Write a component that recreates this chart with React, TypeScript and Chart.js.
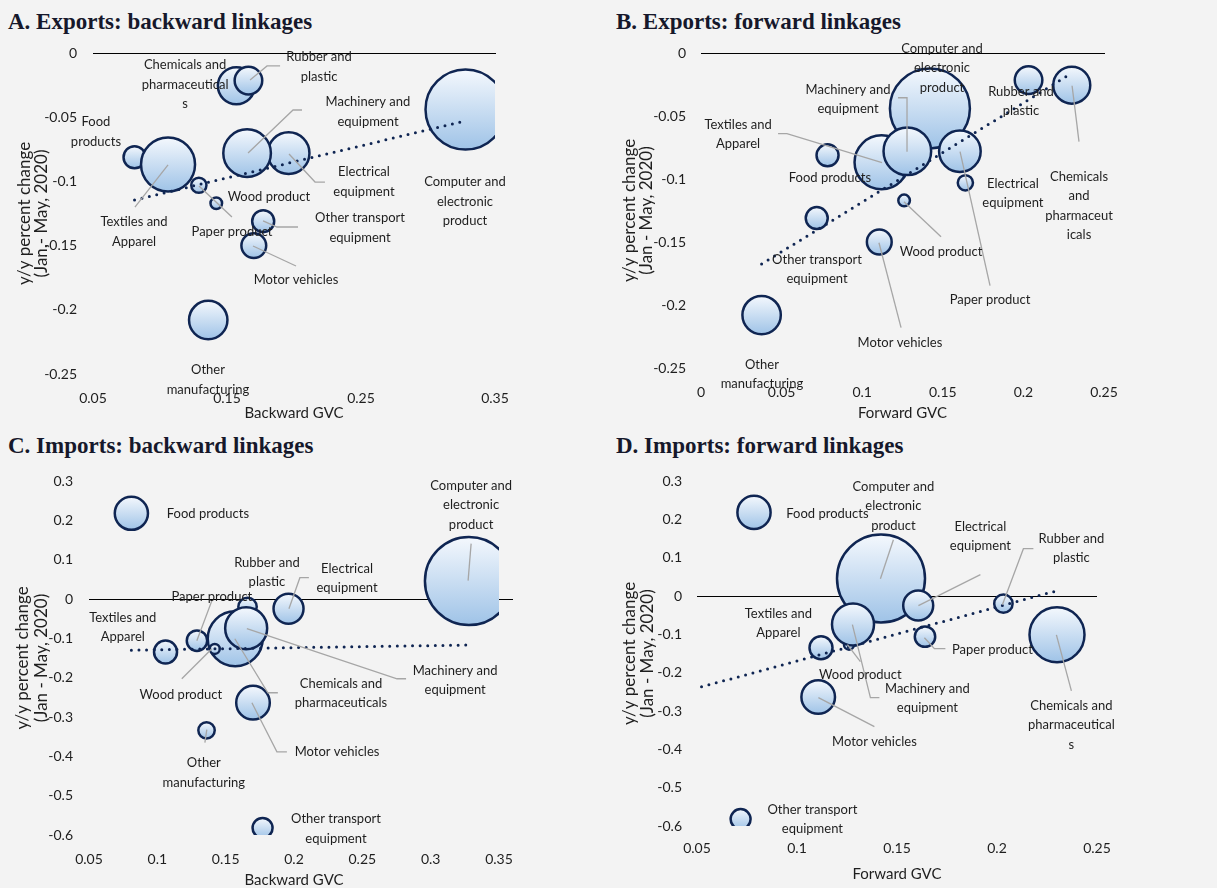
import React, { useEffect, useRef } from "react";
import Chart from "chart.js/auto";

// ---------- data (order also sets drawing order, first = bottom) ----------
const categories = [
  "Computer and electronic product",
  "Chemicals and pharmaceuticals",
  "Food products",
  "Textiles and Apparel",
  "Wood product",
  "Paper product",
  "Other manufacturing",
  "Other transport equipment",
  "Motor vehicles",
  "Electrical equipment",
  "Rubber and plastic",
  "Machinery and equipment",
];
const backwardGVC = [0.328, 0.157, 0.081, 0.106, 0.142, 0.129, 0.136, 0.177, 0.17, 0.196, 0.166, 0.165];
const forwardGVC = [0.142, 0.23, 0.0785, 0.112, 0.126, 0.164, 0.0376, 0.0718, 0.1106, 0.1606, 0.2032, 0.128];
const exportChange = [-0.044, -0.0255, -0.0812, -0.0868, -0.117, -0.103, -0.208, -0.131, -0.15, -0.078, -0.0215, -0.078];
const importChange = [0.0455, -0.101, 0.218, -0.135, -0.127, -0.106, -0.334, -0.582, -0.2635, -0.025, -0.02, -0.0745];
const exportSize = [40, 18.5, 11, 27, 5.8, 7.6, 19.2, 11, 12.4, 20.8, 13.8, 23.8];
const importSize = [44, 27.5, 16.6, 11.5, 5, 10.2, 8.2, 10, 16.8, 15, 9.2, 21];

// trend lines (endpoints)
const trendAx = [0.081, 0.328];
const trendAy = [-0.1145, -0.0528];
const trendBx = [0.0376, 0.23];
const trendBy = [-0.1675, -0.016];
const trendCx = [0.081, 0.328];
const trendCy = [-0.13, -0.117];
const trendDx = [0.0376, 0.23];
const trendDy = [-0.2576, 0.0137];

// ticks
const xTicksBackward = [0.05, 0.15, 0.25, 0.35];
const xTickLabelsBackwardA = ["0.05", "0.15", "0.25", "0.35"];
const xTicksForwardB = [0, 0.05, 0.1, 0.15, 0.2, 0.25];
const xTickLabelsForwardB = ["0", "0.05", "0.1", "0.15", "0.2", "0.25"];
const xTicksBackwardC = [0.05, 0.1, 0.15, 0.2, 0.25, 0.3, 0.35];
const xTickLabelsBackwardC = ["0.05", "0.1", "0.15", "0.2", "0.25", "0.3", "0.35"];
const xTicksForwardD = [0.05, 0.1, 0.15, 0.2, 0.25];
const xTickLabelsForwardD = ["0.05", "0.1", "0.15", "0.2", "0.25"];
const yTicksExports = [0, -0.05, -0.1, -0.15, -0.2, -0.25];
const yTickLabelsExports = ["0", "-0.05", "-0.1", "-0.15", "-0.2", "-0.25"];
const yTicksImports = [0.3, 0.2, 0.1, 0, -0.1, -0.2, -0.3, -0.4, -0.5, -0.6];
const yTickLabelsImports = ["0.3", "0.2", "0.1", "0", "-0.1", "-0.2", "-0.3", "-0.4", "-0.5", "-0.6"];

type Ann = { t: string[]; x: number; y: number; l?: number[][] };

const annA: Ann[] = [
  { t: ["Chemicals and", "pharmaceutical", "s"], x: 0.1187, y: -0.0093 },
  { t: ["Rubber and", "plastic"], x: 0.2187, y: -0.0031, l: [[0.1672, -0.021], [0.1799, -0.0101], [0.1896, -0.0101]] },
  { t: ["Machinery and", "equipment"], x: 0.2552, y: -0.0382, l: [[0.1657, -0.0779], [0.1993, -0.0444], [0.206, -0.0444]] },
  { t: ["Food", "products"], x: 0.0522, y: -0.0537 },
  { t: ["Textiles and", "Apparel"], x: 0.0806, y: -0.1316, l: [[0.106, -0.0872], [0.0813, -0.12]] },
  { t: ["Wood product"], x: 0.1813, y: -0.1121 },
  { t: ["Paper product"], x: 0.1537, y: -0.1394, l: [[0.1291, -0.1036], [0.1537, -0.1277]] },
  { t: ["Electrical", "equipment"], x: 0.2522, y: -0.0927, l: [[0.1963, -0.0787], [0.2157, -0.1005], [0.2231, -0.1005]] },
  { t: ["Other transport", "equipment"], x: 0.2493, y: -0.1285, l: [[0.1769, -0.1308], [0.1873, -0.1355], [0.203, -0.1355]] },
  { t: ["Motor vehicles"], x: 0.2015, y: -0.1768, l: [[0.1694, -0.1503], [0.2015, -0.1659]] },
  { t: ["Other", "manufacturing"], x: 0.1358, y: -0.2469 },
  { t: ["Computer and", "electronic", "product"], x: 0.3276, y: -0.1005 },
];
const annB: Ann[] = [
  { t: ["Computer and", "electronic", "product"], x: 0.1495, y: 0.0034 },
  { t: ["Machinery and", "equipment"], x: 0.0912, y: -0.0291, l: [[0.1278, -0.0783], [0.1278, -0.0355], [0.1222, -0.0355]] },
  { t: ["Textiles and", "Apparel"], x: 0.023, y: -0.0569, l: [[0.1123, -0.0871], [0.0533, -0.064], [0.0478, -0.064]] },
  { t: ["Food products"], x: 0.08, y: -0.099 },
  { t: ["Rubber and", "plastic"], x: 0.1985, y: -0.0307 },
  { t: ["Electrical", "equipment"], x: 0.1935, y: -0.1037 },
  { t: ["Chemicals", "and", "pharmaceut", "icals"], x: 0.2345, y: -0.0982, l: [[0.2302, -0.026], [0.2345, -0.0704]] },
  { t: ["Wood product"], x: 0.1489, y: -0.1577, l: [[0.1259, -0.118], [0.1489, -0.1458]] },
  { t: ["Other transport", "equipment"], x: 0.072, y: -0.164 },
  { t: ["Paper product"], x: 0.1793, y: -0.1958, l: [[0.1607, -0.0783], [0.1793, -0.1847]] },
  { t: ["Motor vehicles"], x: 0.1234, y: -0.2299, l: [[0.1104, -0.1506], [0.1241, -0.218]] },
  { t: ["Other", "manufacturing"], x: 0.0378, y: -0.2474 },
];
const annC: Ann[] = [
  { t: ["Food products"], x: 0.137, y: 0.217 },
  { t: ["Computer and", "electronic", "product"], x: 0.3296, y: 0.2883, l: [[0.3296, 0.1407], [0.3274, 0.0466]] },
  { t: ["Rubber and", "plastic"], x: 0.1802, y: 0.0924 },
  { t: ["Electrical", "equipment"], x: 0.2388, y: 0.0771, l: [[0.1963, -0.0247], [0.2043, 0.0542], [0.2109, 0.0542]] },
  { t: ["Paper product"], x: 0.1399, y: 0.0059, l: [[0.1289, -0.1061], [0.1399, -0.0043]] },
  { t: ["Textiles and", "Apparel"], x: 0.0747, y: -0.0476 },
  { t: ["Wood product"], x: 0.1172, y: -0.2435, l: [[0.1179, -0.2028], [0.1399, -0.1265]] },
  { t: ["Chemicals and", "pharmaceuticals"], x: 0.2344, y: -0.2155, l: [[0.1567, -0.101], [0.1809, -0.2384], [0.1882, -0.2384]] },
  { t: ["Machinery and", "equipment"], x: 0.3179, y: -0.1824, l: [[0.1655, -0.0756], [0.2754, -0.2028], [0.282, -0.2028]] },
  { t: ["Motor vehicles"], x: 0.2315, y: -0.3885, l: [[0.1692, -0.2638], [0.1875, -0.3885], [0.1948, -0.3885]] },
  { t: ["Other", "manufacturing"], x: 0.134, y: -0.4165, l: [[0.1362, -0.332], [0.1348, -0.3651]] },
  { t: ["Other transport", "equipment"], x: 0.2307, y: -0.559 },
];
const annD: Ann[] = [
  { t: ["Food products"], x: 0.1152, y: 0.2147 },
  { t: ["Computer and", "electronic", "product"], x: 0.1482, y: 0.2852, l: [[0.1482, 0.1469], [0.1417, 0.0451]] },
  { t: ["Electrical", "equipment"], x: 0.1917, y: 0.1808, l: [[0.1607, -0.0253], [0.1917, 0.0556]] },
  { t: ["Rubber and", "plastic"], x: 0.2372, y: 0.1495, l: [[0.2027, -0.0227], [0.2132, 0.1234], [0.2182, 0.1234]] },
  { t: ["Textiles and", "Apparel"], x: 0.0907, y: -0.0462 },
  { t: ["Paper product"], x: 0.1977, y: -0.1401, l: [[0.1637, -0.1088], [0.1687, -0.1375], [0.1742, -0.1375]] },
  { t: ["Wood product"], x: 0.1317, y: -0.2053, l: [[0.1252, -0.127], [0.1317, -0.1714]] },
  { t: ["Machinery and", "equipment"], x: 0.1652, y: -0.2418, l: [[0.1277, -0.0749], [0.1367, -0.2653], [0.1412, -0.2653]] },
  { t: ["Chemicals and", "pharmaceutical", "s"], x: 0.2372, y: -0.2862, l: [[0.2297, -0.1013], [0.2372, -0.2474]] },
  { t: ["Motor vehicles"], x: 0.1387, y: -0.3801, l: [[0.1107, -0.2653], [0.1387, -0.3409]] },
  { t: ["Other transport", "equipment"], x: 0.1077, y: -0.5575 },
];

// ---------- styling / layout ----------
const FONT = "Lato, 'Open Sans', sans-serif";
const NAVY = "#0f2552";
const LABEL_LINE_H = 19.5;
const X_BOX = 50;

type Box = { left: number; top: number; width: number; height: number };
type Area = { left: number; top: number; right: number; bottom: number };
type PanelCfg = {
  title: string;
  titlePos: [number, number];
  canvas: Box;
  area: Area;
  xRange: [number, number];
  yRange: [number, number];
  xTicks: number[];
  xTickLabels: string[];
  yTicks: number[];
  yTickLabels: string[];
  xs: number[];
  ys: number[];
  sizes: number[];
  trendX: number[];
  trendY: number[];
  xTitle: string;
  yTitle: string[];
  xTitleOff: number;
  yTitleOff: [number, number];
  xTickPad: number;
  yTickPad: number;
  zeroExtend: number;
  ann: Ann[];
};

const panels: PanelCfg[] = [
  {
    title: "A. Exports: backward linkages",
    titlePos: [8, 10],
    canvas: { left: 0, top: 20, width: 600, height: 405 },
    area: { left: 93, top: 53, right: 495, bottom: 374 },
    xRange: [0.05, 0.35],
    yRange: [-0.25, 0],
    xTicks: xTicksBackward,
    xTickLabels: xTickLabelsBackwardA,
    yTicks: yTicksExports,
    yTickLabels: yTickLabelsExports,
    xs: backwardGVC,
    ys: exportChange,
    sizes: exportSize,
    trendX: trendAx,
    trendY: trendAy,
    xTitle: "Backward GVC",
    yTitle: ["y/y percent change", "(Jan,- May, 2020)"],
    xTitleOff: 39,
    yTitleOff: [68, 51],
    xTickPad: 16,
    yTickPad: 16,
    zeroExtend: 1,
    ann: annA,
  },
  {
    title: "B. Exports: forward linkages",
    titlePos: [616, 10],
    canvas: { left: 600, top: 20, width: 617, height: 405 },
    area: { left: 701, top: 53, right: 1104, bottom: 368 },
    xRange: [0, 0.25],
    yRange: [-0.25, 0],
    xTicks: xTicksForwardB,
    xTickLabels: xTickLabelsForwardB,
    yTicks: yTicksExports,
    yTickLabels: yTickLabelsExports,
    xs: forwardGVC,
    ys: exportChange,
    sizes: exportSize,
    trendX: trendBx,
    trendY: trendBy,
    xTitle: "Forward GVC",
    yTitle: ["y/y percent change", "(Jan - May, 2020)"],
    xTitleOff: 45,
    yTitleOff: [71, 54],
    xTickPad: 16.5,
    yTickPad: 15,
    zeroExtend: 1,
    ann: annB,
  },
  {
    title: "C. Imports: backward linkages",
    titlePos: [8, 434],
    canvas: { left: 0, top: 446, width: 600, height: 442 },
    area: { left: 89, top: 481, right: 499, bottom: 835 },
    xRange: [0.05, 0.35],
    yRange: [-0.6, 0.3],
    xTicks: xTicksBackwardC,
    xTickLabels: xTickLabelsBackwardC,
    yTicks: yTicksImports,
    yTickLabels: yTickLabelsImports,
    xs: backwardGVC,
    ys: importChange,
    sizes: importSize,
    trendX: trendCx,
    trendY: trendCy,
    xTitle: "Backward GVC",
    yTitle: ["y/y percent change", "(Jan - May, 2020)"],
    xTitleOff: 45,
    yTitleOff: [66, 47],
    xTickPad: 16.5,
    yTickPad: 16,
    zeroExtend: 14,
    ann: annC,
  },
  {
    title: "D. Imports: forward linkages",
    titlePos: [616, 434],
    canvas: { left: 600, top: 446, width: 617, height: 442 },
    area: { left: 697, top: 481, right: 1097, bottom: 826 },
    xRange: [0.05, 0.25],
    yRange: [-0.6, 0.3],
    xTicks: xTicksForwardD,
    xTickLabels: xTickLabelsForwardD,
    yTicks: yTicksImports,
    yTickLabels: yTickLabelsImports,
    xs: forwardGVC,
    ys: importChange,
    sizes: importSize,
    trendX: trendDx,
    trendY: trendDy,
    xTitle: "Forward GVC",
    yTitle: ["y/y percent change", "(Jan - May, 2020)"],
    xTitleOff: 48,
    yTitleOff: [67, 49],
    xTickPad: 14.5,
    yTickPad: 15,
    zeroExtend: 0,
    ann: annD,
  },
];

function makePlugins(cfg: PanelCfg) {
  const zeroLine = {
    id: "zeroLine",
    beforeDatasetsDraw(chart: any) {
      const { ctx, chartArea } = chart;
      const py = Math.round(chart.scales.y.getPixelForValue(0)) + 0.5;
      ctx.save();
      ctx.strokeStyle = "#000000";
      ctx.lineWidth = 1.2;
      ctx.beginPath();
      ctx.moveTo(chartArea.left, py);
      ctx.lineTo(chartArea.right + cfg.zeroExtend, py);
      ctx.stroke();
      ctx.restore();
    },
  };
  const labels = {
    id: "panelLabels",
    afterDatasetsDraw(chart: any) {
      const { ctx, chartArea } = chart;
      const xs = chart.scales.x;
      const ys = chart.scales.y;
      ctx.save();
      ctx.strokeStyle = "#a6a6a6";
      ctx.lineWidth = 1.3;
      cfg.ann.forEach((a) => {
        if (!a.l) return;
        ctx.beginPath();
        a.l.forEach((p, i) => {
          const px = xs.getPixelForValue(p[0]);
          const py = ys.getPixelForValue(p[1]);
          if (i === 0) ctx.moveTo(px, py);
          else ctx.lineTo(px, py);
        });
        ctx.stroke();
      });
      ctx.fillStyle = "#1e1e1e";
      ctx.font = `13px ${FONT}`;
      ctx.textAlign = "center";
      ctx.textBaseline = "middle";
      cfg.ann.forEach((a) => {
        const px = xs.getPixelForValue(a.x);
        const py = ys.getPixelForValue(a.y);
        a.t.forEach((line, i) => ctx.fillText(line, px, py + i * LABEL_LINE_H));
      });
      ctx.font = `15px ${FONT}`;
      ctx.fillText(cfg.xTitle, (chartArea.left + chartArea.right) / 2, chartArea.bottom + cfg.xTitleOff);
      ctx.font = `17px ${FONT}`;
      const cy = (chartArea.top + chartArea.bottom) / 2;
      cfg.yTitle.forEach((line, i) => {
        ctx.save();
        ctx.translate(chartArea.left - cfg.yTitleOff[i], cy);
        ctx.rotate(-Math.PI / 2);
        ctx.fillText(line, 0, 0);
        ctx.restore();
      });
      ctx.restore();
    },
  };
  return [zeroLine, labels];
}

function Panel({ cfg }: { cfg: PanelCfg }) {
  const ref = useRef<HTMLCanvasElement>(null);
  useEffect(() => {
    const canvas = ref.current;
    if (!canvas) return;
    const { canvas: box, area } = cfg;
    const bubbleData = cfg.xs.map((x, i) => ({ x, y: cfg.ys[i], r: cfg.sizes[i], label: categories[i] }));
    const trendData = cfg.trendX.map((x, i) => ({ x, y: cfg.trendY[i] }));
    const chart = new Chart(canvas, {
      type: "bubble",
      data: {
        datasets: [
          {
            type: "line",
            data: trendData,
            borderColor: NAVY,
            borderWidth: 3,
            borderDash: [0, 7.6],
            borderCapStyle: "round",
            pointRadius: 0,
            fill: false,
            clip: 0,
            order: 0,
          } as any,
          {
            type: "bubble",
            data: bubbleData,
            borderColor: NAVY,
            borderWidth: 2.5,
            clip: 0,
            order: 1,
            backgroundColor: (c: any) => {
              const ch = c.chart;
              const raw = c.raw;
              if (!raw || !ch.chartArea || !ch.scales || !ch.scales.y) return "#cfe0f3";
              const py = ch.scales.y.getPixelForValue(raw.y);
              const g = ch.ctx.createLinearGradient(0, py - raw.r, 0, py + raw.r);
              g.addColorStop(0, "#f4f8fd");
              g.addColorStop(1, "#9fc3e7");
              return g;
            },
          } as any,
        ],
      },
      options: {
        responsive: false,
        animation: false,
        devicePixelRatio: 1,
        events: [],
        layout: {
          autoPadding: false,
          padding: {
            left: 0,
            top: area.top - box.top,
            right: box.left + box.width - area.right,
            bottom: box.top + box.height - area.bottom - X_BOX,
          },
        },
        plugins: { legend: { display: false }, tooltip: { enabled: false } },
        scales: {
          x: {
            type: "linear",
            min: cfg.xRange[0],
            max: cfg.xRange[1],
            afterFit: (s: any) => {
              s.height = X_BOX;
            },
            afterBuildTicks: (s: any) => {
              s.ticks = cfg.xTicks.map((v) => ({ value: v }));
            },
            ticks: {
              autoSkip: false,
              maxRotation: 0,
              padding: cfg.xTickPad,
              color: "#1e1e1e",
              font: { family: FONT, size: 14 },
              callback: (v: any, i: number) => cfg.xTickLabels[i],
            },
            grid: { display: false, drawTicks: false },
            border: { display: false },
          },
          y: {
            type: "linear",
            min: cfg.yRange[0],
            max: cfg.yRange[1],
            afterFit: (s: any) => {
              s.width = area.left - box.left;
            },
            afterBuildTicks: (s: any) => {
              s.ticks = cfg.yTicks.map((v) => ({ value: v }));
            },
            ticks: {
              autoSkip: false,
              padding: cfg.yTickPad,
              color: "#1e1e1e",
              font: { family: FONT, size: 14 },
              callback: (v: any, i: number) => cfg.yTickLabels[i],
            },
            grid: { display: false, drawTicks: false },
            border: { display: false },
          },
        },
      },
      plugins: makePlugins(cfg),
    } as any);
    return () => chart.destroy();
  }, [cfg]);
  return (
    <>
      <div
        style={{
          position: "absolute",
          left: cfg.titlePos[0],
          top: cfg.titlePos[1],
          font: "bold 23px 'Liberation Serif', 'Times New Roman', serif",
          lineHeight: "23px",
          color: "#16182b",
          whiteSpace: "nowrap",
        }}
      >
        {cfg.title}
      </div>
      <canvas
        ref={ref}
        width={cfg.canvas.width}
        height={cfg.canvas.height}
        style={{
          position: "absolute",
          left: cfg.canvas.left,
          top: cfg.canvas.top,
          width: cfg.canvas.width,
          height: cfg.canvas.height,
        }}
      />
    </>
  );
}

export default function App() {
  return (
    <div
      style={{
        position: "absolute",
        left: 0,
        top: 0,
        width: 1217,
        height: 888,
        background: "#f3f3f3",
        overflow: "hidden",
      }}
    >
      {panels.map((p) => (
        <Panel key={p.title} cfg={p} />
      ))}
    </div>
  );
}
